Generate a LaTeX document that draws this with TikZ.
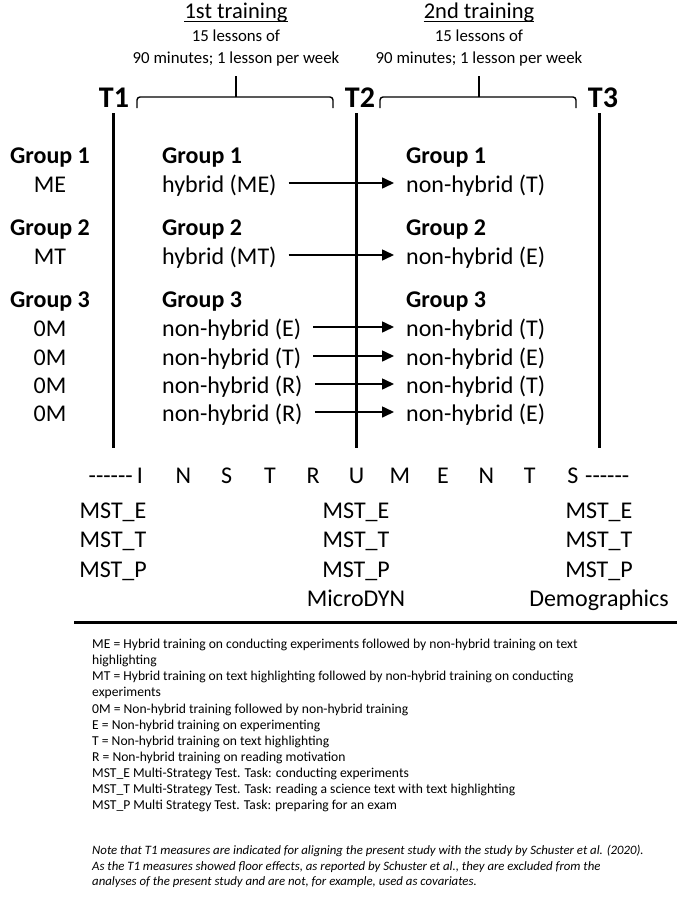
\documentclass[tikz,border=0pt]{standalone}
\usepackage{fontspec}
\setmainfont{Carlito}
\usetikzlibrary{arrows.meta}
\newcommand{\hy}{-\kern0pt}
\newcommand{\dashrun}{\hy\hy\hy\hy\hy-}
\begin{document}
\begin{tikzpicture}[x=1pt, y=-1pt,
    lbl/.style={inner sep=0pt, font=\fontsize{24}{29}\selectfont},
    grp/.style={inner sep=0pt, font=\fontsize{24}{29}\selectfont\bfseries},
    cell/.style={anchor=base west, text height=18pt, text depth=0pt},
    tlabel/.style={inner sep=0pt, anchor=base, font=\fontsize{30}{36}\selectfont\bfseries},
    title/.style={inner sep=0pt, anchor=base, font=\fontsize{22.5}{27}\selectfont},
    sub/.style={inner sep=0pt, anchor=base, font=\fontsize{16.8}{20}\selectfont},
    mline/.style={line width=3pt},
    brace/.style={line width=1.4pt, rounded corners=3pt},
    arr/.style={-{Triangle[length=12pt,width=11pt]}, line width=1.6pt}]
    \useasboundingbox (0,0) rectangle (685,900);

    % Trainings
    \node[title] (tr1) at (236,18) {1st training};
    \node[title] (tr2) at (479,18) {2nd training};
    \foreach \n in {tr1,tr2}
        \draw[line width=0.6pt] ([yshift=-3.5pt]\n.base west) -- ([yshift=-3.5pt]\n.base east);
    \node[sub] (ls1) at (236,41) {15 lessons of};
    \node[sub] (ls2) at (479,41) {15 lessons of};
    \node[sub] (mn1) at (236,63) {90 minutes; 1 lesson per week};
    \node[sub] (mn2) at (479,63) {90 minutes; 1 lesson per week};

    % Braces
    \foreach \s in {0,243} {
        \draw[brace] (137+\s,108) -- (137+\s,97) -- (333+\s,97) -- (333+\s,108);
        \draw[line width=1.4pt] (236+\s,97) -- (236+\s,76);
    }

    % Time points
    \node[tlabel] (T1) at (114,107) {T1};
    \node[tlabel] (T2) at (360,107) {T2};
    \node[tlabel] (T3) at (603,107) {T3};
    \foreach \x in {113,356,599}
        \draw[mline] (\x,113) -- (\x,448);

    % Groups at T1
    \node[grp, anchor=base] (g1) at (50,163) {Group 1};
    \node[lbl, anchor=base] (c1) at (50,192) {ME};
    \node[grp, anchor=base] (g2) at (50,235) {Group 2};
    \node[lbl, anchor=base] (c2) at (50,264) {MT};
    \node[grp, anchor=base] (g3) at (50,307) {Group 3};
    \foreach \y [count=\i] in {336,365,393,421}
        \node[lbl, anchor=base] (c3\i) at (50,\y) {0M};

    % 1st training
    \node[grp, cell] (m1) at (162,163) {Group 1};
    \node[lbl, cell] (m2) at (162,192) {hybrid (ME)};
    \node[grp, cell] (m3) at (162,235) {Group 2};
    \node[lbl, cell] (m4) at (162,264) {hybrid (MT)};
    \node[grp, cell] (m5) at (162,307) {Group 3};
    \node[lbl, cell] (m6) at (162,336) {non-hybrid (E)};
    \node[lbl, cell] (m7) at (162,365) {non-hybrid (T)};
    \node[lbl, cell] (m8) at (162,393) {non-hybrid (R)};
    \node[lbl, cell] (m9) at (162,421) {non-hybrid (R)};

    % 2nd training
    \node[grp, cell] (r1) at (406,163) {Group 1};
    \node[lbl, cell] (r2) at (406,192) {non-hybrid (T)};
    \node[grp, cell] (r3) at (406,235) {Group 2};
    \node[lbl, cell] (r4) at (406,264) {non-hybrid (E)};
    \node[grp, cell] (r5) at (406,307) {Group 3};
    \node[lbl, cell] (r6) at (406,336) {non-hybrid (T)};
    \node[lbl, cell] (r7) at (406,365) {non-hybrid (E)};
    \node[lbl, cell] (r8) at (406,393) {non-hybrid (T)};
    \node[lbl, cell] (r9) at (406,421) {non-hybrid (E)};

    % Arrows
    \foreach \i in {2,4,6,7,8,9}
        \draw[arr] ([xshift=12pt]m\i.east) -- ([xshift=-12pt]r\i.west);

    % Instruments
    \node[lbl, anchor=base east] (dl) at (133,483) {\dashrun};
    \foreach \ch [count=\i from 0] in {I,N,S,T,R,U,M,E,N,T,S}
        \node[lbl, anchor=base] (in\i) at (140+43.3*\i,483) {\ch};
    \node[lbl, anchor=base west] (dr) at (585,483) {\dashrun};

    \foreach \x/\n in {113/a,356/b,599/c} {
        \node[lbl, anchor=base] (e\n) at (\x,518) {MST\_E};
        \node[lbl, anchor=base] (t\n) at (\x,547) {MST\_T};
        \node[lbl, anchor=base] (p\n) at (\x,577) {MST\_P};
    }
    \node[lbl, anchor=base] (dyn) at (356,606) {MicroDYN};
    \node[lbl, anchor=base] (demo) at (599,606) {Demographics};
    \draw[mline] (74,622) -- (677,622);

    % Notes
    \node[inner sep=0pt, anchor=north west, align=left,
          font=\fontsize{13.6}{16.1}\selectfont] (notes) at (92,639) {%
        ME = Hybrid training on conducting experiments followed by non-hybrid training on text\\
        highlighting\\
        MT = Hybrid training on text highlighting followed by non-hybrid training on conducting\\
        experiments\\
        0M = Non-hybrid training followed by non-hybrid training\\
        E = Non-hybrid training on experimenting\\
        T = Non-hybrid training on text highlighting\\
        R = Non-hybrid training on reading motivation\\
        MST\_E Multi-Strategy Test. Task: conducting experiments\\
        MST\_T Multi-Strategy Test. Task: reading a science text with text highlighting\\
        MST\_P Multi Strategy Test. Task: preparing for an exam};
    \node[inner sep=0pt, anchor=north west, align=left,
          font=\fontsize{12.8}{15.7}\itshape] (note) at (92,845) {%
        Note that T1 measures are indicated for aligning the present study with the study by Schuster et al. (2020).\\
        As the T1 measures showed floor effects, as reported by Schuster et al., they are excluded from the\\
        analyses of the present study and are not, for example, used as covariates.};
\end{tikzpicture}
\end{document}
